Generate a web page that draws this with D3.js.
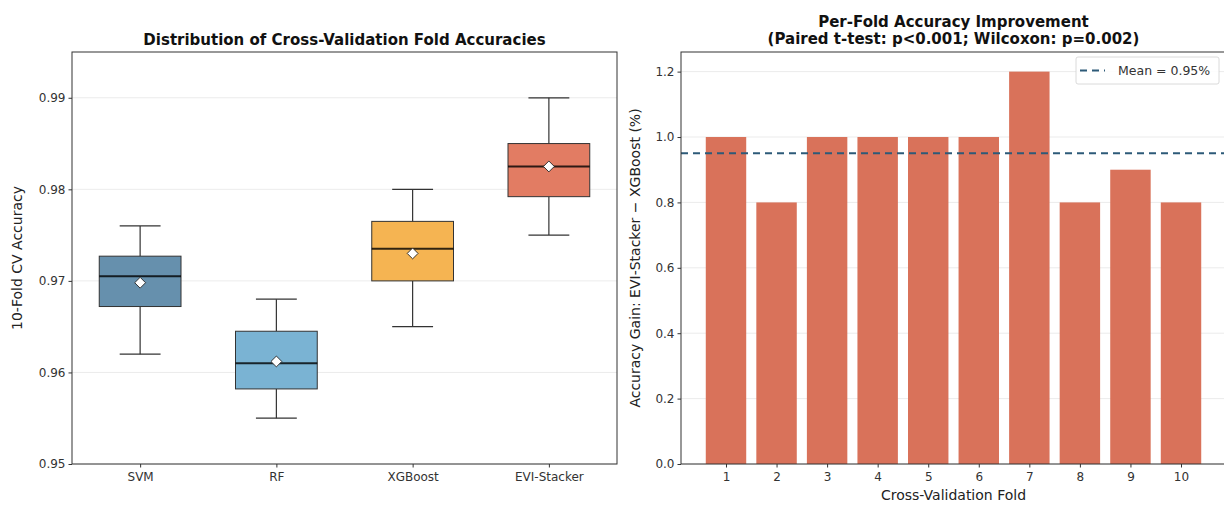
<!DOCTYPE html>
<html>
<head>
<meta charset="utf-8">
<script src="https://cdn.jsdelivr.net/npm/d3@7"></script>
<style>
  body { margin: 0; background: #fff; }
  text { font-family: "DejaVu Sans", sans-serif; }
</style>
</head>
<body>
<script>
// ---- data ----
const models = ["SVM", "RF", "XGBoost", "EVI-Stacker"];
const whiskLow  = [0.962, 0.955, 0.965, 0.975];
const q1        = [0.9672, 0.9582, 0.970, 0.9792];
const medians   = [0.9705, 0.961, 0.9735, 0.9825];
const q3        = [0.9727, 0.9645, 0.9765, 0.985];
const whiskHigh = [0.976, 0.968, 0.980, 0.990];
const means     = [0.9698, 0.9612, 0.973, 0.9825];
const boxColors = ["#6690ad", "#7ab3d3", "#f5b452", "#e27c63"];
const leftTicks = [0.95, 0.96, 0.97, 0.98, 0.99];

const folds = [1, 2, 3, 4, 5, 6, 7, 8, 9, 10];
const gains = [1.0, 0.8, 1.0, 1.0, 1.0, 1.0, 1.2, 0.8, 0.9, 0.8];
const meanGain = 0.95;
const rightTicks = [0.0, 0.2, 0.4, 0.6, 0.8, 1.0, 1.2];

const W = 1224, H = 505
const svg = d3.select("body").append("svg")
  .attr("width", W)
  .attr("height", H)

const axisCol = "#333";
const tickFont = 12;
const labelFont = 14;
const titleFont = 15;

// ================= left panel: box plots =================
const xL = d3.scaleLinear().domain([0.5, 4.5]).range([72, 617])
const yL = d3.scaleLinear().domain([0.95, 0.995]).range([464, 52])

const gL = svg.append("g")

// grid
gL.selectAll("line.grid").data(leftTicks).join("line")
  .attr("class", "grid")
  .attr("x1", xL.range()[0]).attr("x2", xL.range()[1])
  .attr("y1", d => yL(d)).attr("y2", d => yL(d))
  .attr("stroke", "#e6e6e6").attr("stroke-width", 0.8)

const boxW = 0.6
const boxes = gL.selectAll("g.box").data(models).join("g").attr("class", "box")

// whiskers
boxes.append("line")
  .attr("x1", (d, i) => xL(i + 1)).attr("x2", (d, i) => xL(i + 1))
  .attr("y1", (d, i) => yL(whiskLow[i])).attr("y2", (d, i) => yL(q1[i]))
  .attr("stroke", axisCol).attr("stroke-width", 1.2)
boxes.append("line")
  .attr("x1", (d, i) => xL(i + 1)).attr("x2", (d, i) => xL(i + 1))
  .attr("y1", (d, i) => yL(q3[i])).attr("y2", (d, i) => yL(whiskHigh[i]))
  .attr("stroke", axisCol).attr("stroke-width", 1.2)
// caps
boxes.append("line")
  .attr("x1", (d, i) => xL(i + 1 - boxW / 4)).attr("x2", (d, i) => xL(i + 1 + boxW / 4))
  .attr("y1", (d, i) => yL(whiskLow[i])).attr("y2", (d, i) => yL(whiskLow[i]))
  .attr("stroke", axisCol).attr("stroke-width", 1.2)
boxes.append("line")
  .attr("x1", (d, i) => xL(i + 1 - boxW / 4)).attr("x2", (d, i) => xL(i + 1 + boxW / 4))
  .attr("y1", (d, i) => yL(whiskHigh[i])).attr("y2", (d, i) => yL(whiskHigh[i]))
  .attr("stroke", axisCol).attr("stroke-width", 1.2)
// box
boxes.append("rect")
  .attr("x", (d, i) => xL(i + 1 - boxW / 2))
  .attr("width", xL(1 + boxW) - xL(1))
  .attr("y", (d, i) => yL(q3[i]))
  .attr("height", (d, i) => yL(q1[i]) - yL(q3[i]))
  .attr("fill", (d, i) => boxColors[i])
  .attr("stroke", axisCol).attr("stroke-width", 1)
// median
boxes.append("line")
  .attr("x1", (d, i) => xL(i + 1 - boxW / 2)).attr("x2", (d, i) => xL(i + 1 + boxW / 2))
  .attr("y1", (d, i) => yL(medians[i])).attr("y2", (d, i) => yL(medians[i]))
  .attr("stroke", "#000").attr("stroke-opacity", 0.8).attr("stroke-width", 2)
// mean diamond
boxes.append("path")
  .attr("d", d3.symbol().type(d3.symbolDiamond2).size(75))
  .attr("transform", (d, i) => "translate(" + xL(i + 1) + "," + yL(means[i]) + ")")
  .attr("fill", "#fff").attr("stroke", "#222").attr("stroke-width", 0.9)

// axes
gL.append("g")
  .attr("transform", "translate(0," + yL.range()[0] + ")")
  .call(d3.axisBottom(xL).tickValues([1, 2, 3, 4]).tickFormat(d => models[d - 1]).tickSize(3.5).tickSizeOuter(0))
  .call(g => g.selectAll("text").attr("font-size", tickFont).attr("fill", "#333").attr("dy", "0.85em"))
gL.append("g")
  .attr("transform", "translate(" + xL.range()[0] + ",0)")
  .call(d3.axisLeft(yL).tickValues(leftTicks).tickFormat(d3.format(".2f")).tickSize(3.5).tickSizeOuter(0))
  .call(g => g.selectAll("text").attr("font-size", tickFont).attr("fill", "#333"))
svg.selectAll(".domain").remove()
svg.selectAll(".tick line").attr("stroke", axisCol)

// frame
gL.append("rect")
  .attr("x", xL.range()[0]).attr("y", yL.range()[1])
  .attr("width", xL.range()[1] - xL.range()[0])
  .attr("height", yL.range()[0] - yL.range()[1])
  .attr("fill", "none").attr("stroke", axisCol).attr("stroke-width", 1)

gL.append("text")
  .attr("x", (xL.range()[0] + xL.range()[1]) / 2).attr("y", 45)
  .attr("text-anchor", "middle").attr("font-size", titleFont).attr("font-weight", "bold")
  .attr("fill", "#111")
  .text("Distribution of Cross-Validation Fold Accuracies")

gL.append("text")
  .attr("transform", "translate(22," + (yL.range()[0] + yL.range()[1]) / 2 + ") rotate(-90)")
  .attr("text-anchor", "middle").attr("font-size", labelFont).attr("fill", "#222")
  .text("10-Fold CV Accuracy")

// ================= right panel: per-fold gains =================
const xR = d3.scaleLinear().domain([0.11, 10.89]).range([681, 1226])
const yR = d3.scaleLinear().domain([0, 1.26]).range([464, 52])
const gR = svg.append("g")

gR.selectAll("line.grid").data(rightTicks).join("line")
  .attr("class", "grid")
  .attr("x1", xR.range()[0]).attr("x2", xR.range()[1])
  .attr("y1", d => yR(d)).attr("y2", d => yR(d))
  .attr("stroke", "#e6e6e6").attr("stroke-width", 0.8)

const barW = 0.8
gR.selectAll("rect.bar").data(folds).join("rect")
  .attr("class", "bar")
  .attr("x", (d) => xR(d - barW / 2))
  .attr("width", xR(1 + barW) - xR(1))
  .attr("y", (d, i) => yR(gains[i]))
  .attr("height", (d, i) => yR(0) - yR(gains[i]))
  .attr("fill", "#d9725a")

gR.append("line")
  .attr("x1", xR.range()[0]).attr("x2", xR.range()[1])
  .attr("y1", yR(meanGain)).attr("y2", yR(meanGain))
  .attr("stroke", "#2d5a78").attr("stroke-width", 2)
  .attr("stroke-dasharray", "7,5")

const axR = gR.append("g")
  .attr("transform", "translate(0," + yR.range()[0] + ")")
  .call(d3.axisBottom(xR).tickValues(folds).tickFormat(d3.format("d")).tickSize(3.5).tickSizeOuter(0))
axR.selectAll("text").attr("font-size", tickFont).attr("fill", "#333").attr("dy", "0.85em")
const ayR = gR.append("g")
  .attr("transform", "translate(" + xR.range()[0] + ",0)")
  .call(d3.axisLeft(yR).tickValues(rightTicks).tickFormat(d3.format(".1f")).tickSize(3.5).tickSizeOuter(0))
ayR.selectAll("text").attr("font-size", tickFont).attr("fill", "#333")
gR.selectAll(".domain").remove()
gR.selectAll(".tick line").attr("stroke", axisCol)

gR.append("rect")
  .attr("x", xR.range()[0]).attr("y", yR.range()[1])
  .attr("width", xR.range()[1] - xR.range()[0])
  .attr("height", yR.range()[0] - yR.range()[1])
  .attr("fill", "none").attr("stroke", axisCol).attr("stroke-width", 1)

// legend
const lg = gR.append("g").attr("transform", "translate(1076,57)")
lg.append("rect")
  .attr("width", 143).attr("height", 27).attr("rx", 2)
  .attr("fill", "#fff").attr("fill-opacity", 0.85)
  .attr("stroke", "#d0d0d0").attr("stroke-width", 0.8)
lg.append("line")
  .attr("x1", 4).attr("x2", 29).attr("y1", 13.5).attr("y2", 13.5)
  .attr("stroke", "#2d5a78").attr("stroke-width", 2).attr("stroke-dasharray", "7,5")
lg.append("text")
  .attr("x", 42).attr("y", 18).attr("font-size", 12.5).attr("fill", "#333")
  .text("Mean = " + meanGain.toFixed(2) + "%")

const cxR = (xR.range()[0] + xR.range()[1]) / 2
gR.append("text")
  .attr("x", cxR).attr("y", 27)
  .attr("text-anchor", "middle").attr("font-size", titleFont).attr("font-weight", "bold").attr("fill", "#111")
  .text("Per-Fold Accuracy Improvement")
gR.append("text")
  .attr("x", cxR).attr("y", 44)
  .attr("text-anchor", "middle").attr("font-size", titleFont).attr("font-weight", "bold").attr("fill", "#111")
  .text("(Paired t-test: p<0.001; Wilcoxon: p=0.002)")

gR.append("text")
  .attr("x", cxR).attr("y", 500)
  .attr("text-anchor", "middle").attr("font-size", labelFont).attr("fill", "#222")
  .text("Cross-Validation Fold")
gR.append("text")
  .attr("transform", "translate(640," + (yR.range()[0] + yR.range()[1]) / 2 + ") rotate(-90)")
  .attr("text-anchor", "middle").attr("font-size", labelFont).attr("fill", "#222")
  .text("Accuracy Gain: EVI-Stacker \u2212 XGBoost (%)")
</script>
</body>
</html>
